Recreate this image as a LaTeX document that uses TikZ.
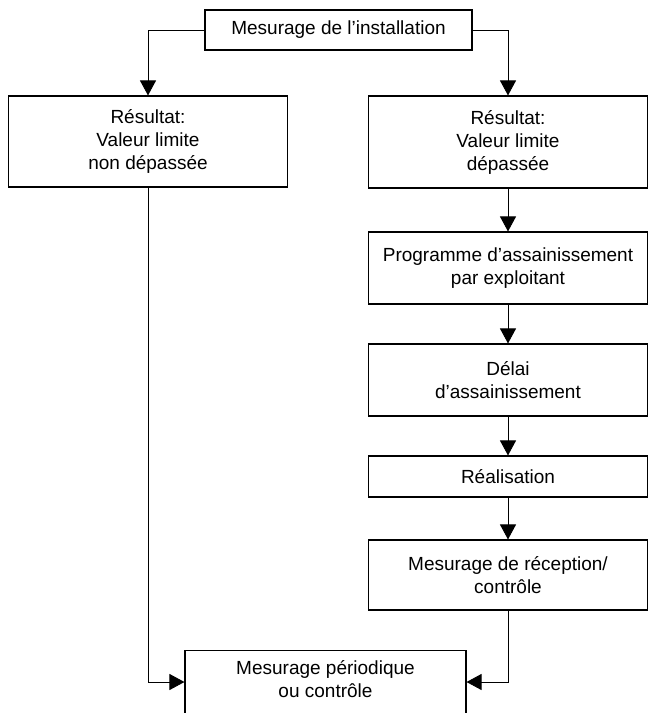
\documentclass[tikz,border=0pt]{standalone}
\usepackage{fontspec}
\setmainfont{Liberation Sans}
\usetikzlibrary{arrows.meta}
\begin{document}
\begin{tikzpicture}[x=1pt,y=-1pt,
  box/.style={draw, line width=1.1pt, align=center, inner sep=0pt,
    font=\fontsize{19}{23}\selectfont},
  txt/.style={align=center, inner sep=0pt, font=\fontsize{19}{23}\selectfont},
  arr/.style={line width=0.9pt, -{Triangle[length=15pt,width=16pt]}},
  conn/.style={line width=0.9pt}]
\useasboundingbox (0,0) rectangle (656,713);
\node[box, minimum width=267pt, minimum height=40pt] (top) at (338.5,30) {Mesurage de l’installation};
\node[box, minimum width=279pt, minimum height=91pt] (left) at (148,141.5) {Résultat:\\Valeur limite\\non dépassée};
\node[box, minimum width=279pt, minimum height=92pt] (right) at (508,142) {Résultat:\\Valeur limite\\dépassée};
\node[box, minimum width=279pt, minimum height=72pt] (prog) at (508,268) {Programme d’assainissement\\par exploitant};
\node[box, minimum width=279pt, minimum height=72pt] (delai) at (508,380) {Délai\\d’assainissement};
\node[box, minimum width=279pt, minimum height=41pt] (real) at (508,476.5) {Réalisation};
\node[box, minimum width=279pt, minimum height=70pt] (recep) at (508,575) {Mesurage de réception/\\contrôle};
\node[draw, line width=1.1pt, minimum width=281pt, minimum height=120pt, inner sep=0pt, anchor=north] (bot) at (325.5,650) {};
\node[txt] (bottxt) at (325.5,679) {Mesurage périodique\\ou contrôle};
\coordinate (jy) at (0,682);
\draw[arr] (top.west) -| (left.north);
\draw[arr] (top.east) -| (right.north);
\draw[arr] (right) -- (prog);
\draw[arr] (prog) -- (delai);
\draw[arr] (delai) -- (real);
\draw[arr] (real) -- (recep);
\draw[arr] (left.south) |- (bot.west |- jy);
\draw[arr] (recep.south) |- (bot.east |- jy);
\end{tikzpicture}
\end{document}
